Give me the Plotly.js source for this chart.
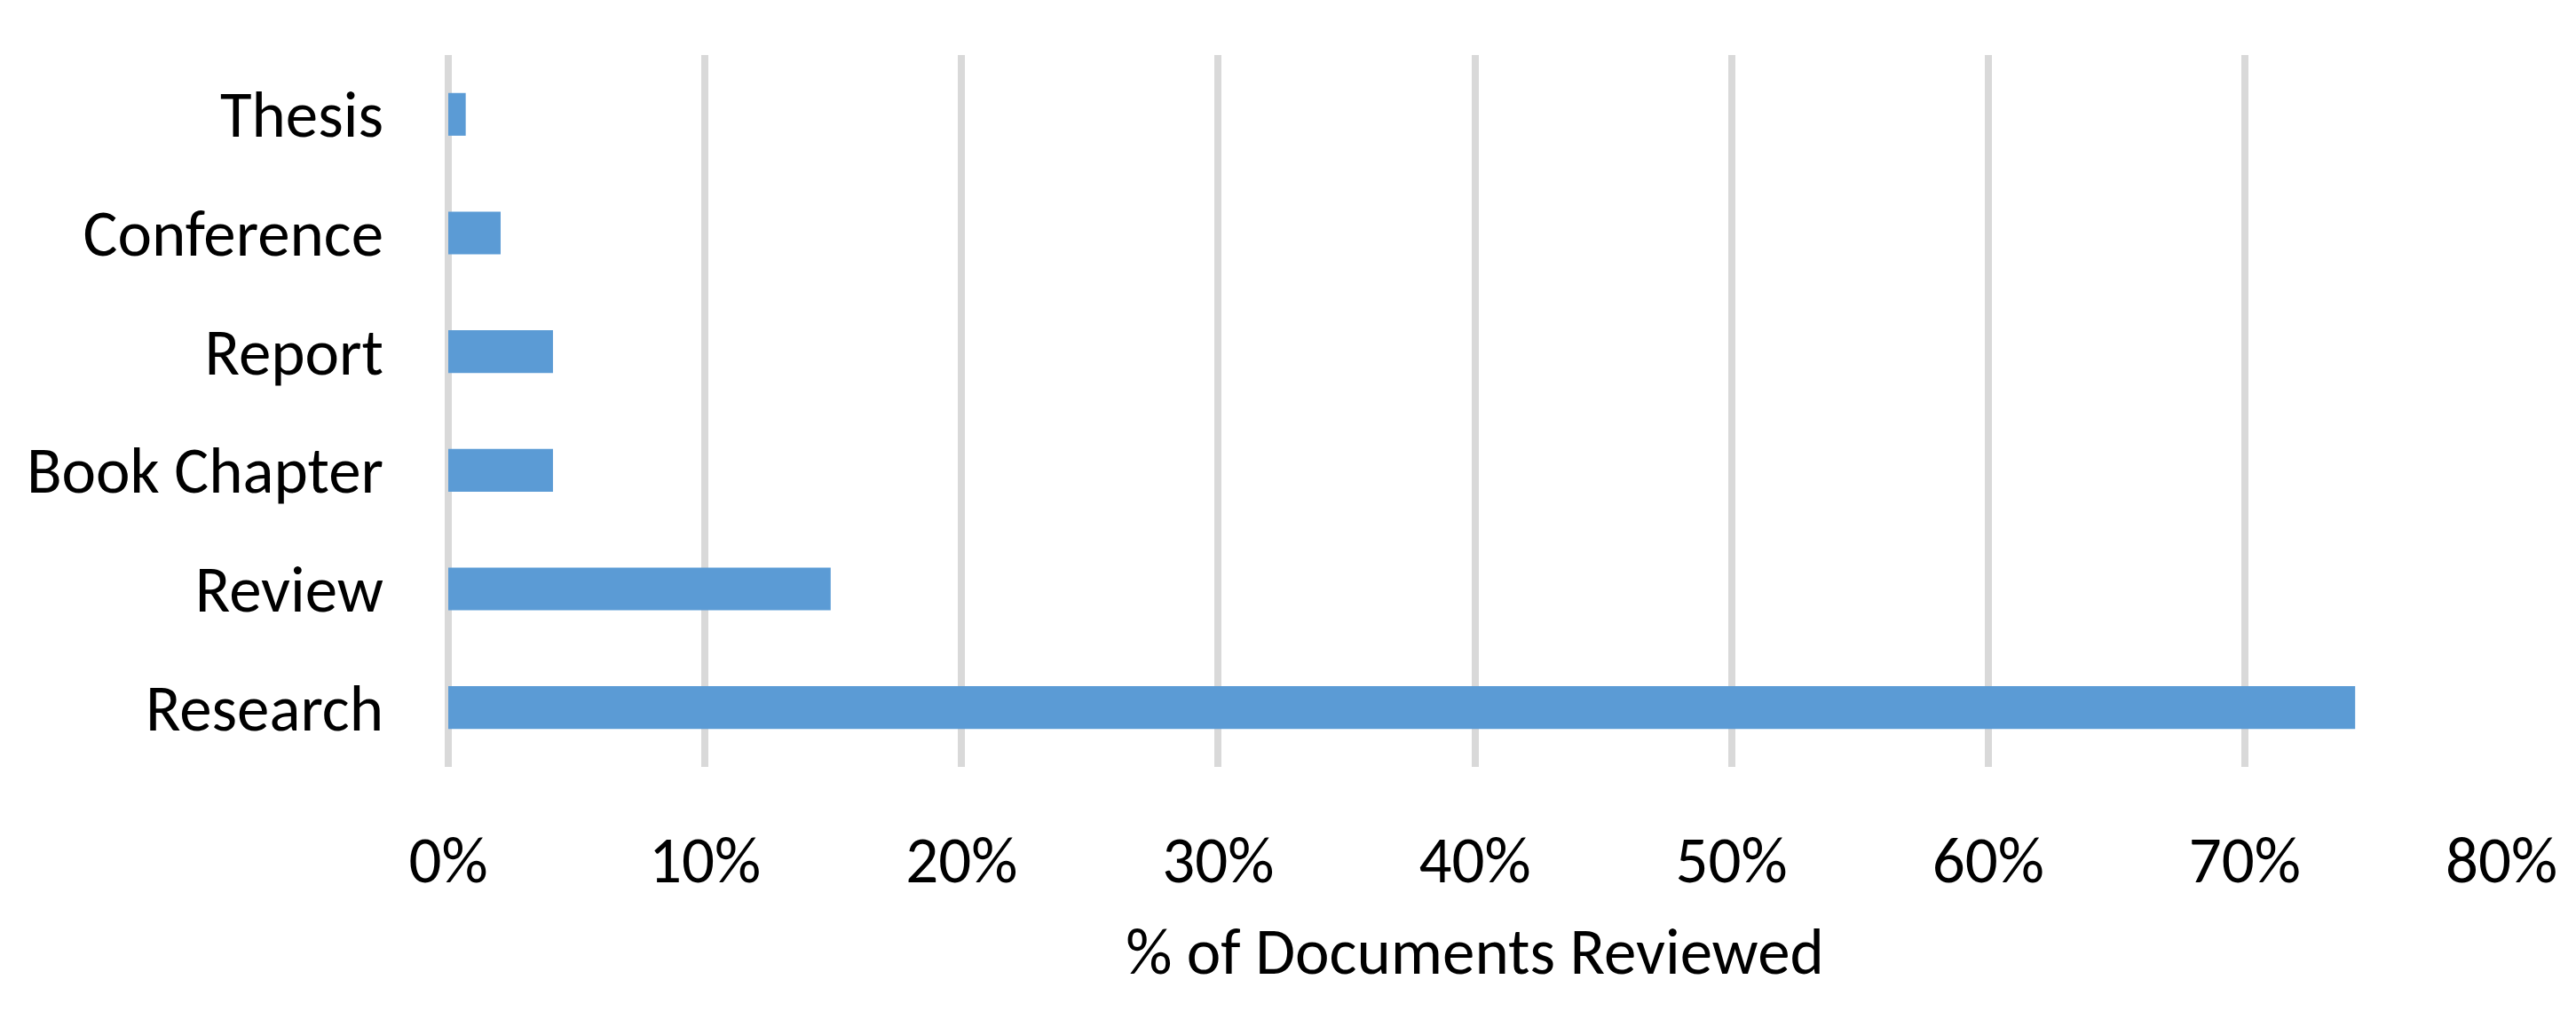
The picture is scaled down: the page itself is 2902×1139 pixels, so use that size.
<!DOCTYPE html>
<html>
<head>
<meta charset="utf-8">
<script src="https://cdn.plot.ly/plotly-3.0.1.min.js"></script>
<style>
  html, body { margin: 0; padding: 0; background: #fff; }
  #chart { width: 2902px; height: 1139px; }
</style>
</head>
<body>
<div id="chart"></div>
<script>
// Categories listed bottom-to-top (Plotly draws the first category at the bottom)
const categories = ["Research", "Review", "Book Chapter", "Report", "Conference", "Thesis"];
const percentValues = [74.3, 14.9, 4.08, 4.08, 2.04, 0.68];
const xTickValues = [0, 10, 20, 30, 40, 50, 60, 70, 80];
const xTickLabels = ["0%", "10%", "20%", "30%", "40%", "50%", "60%", "70%", "80%"];
const xAxisTitle = "% of Documents Reviewed";

const FONT = "Carlito, Lato, 'Open Sans', sans-serif";
const FS = 73;

const trace = {
  type: "bar",
  orientation: "h",
  y: categories,
  x: percentValues,
  marker: { color: "#5b9bd5", line: { width: 0 } },
  hoverinfo: "none"
};

const layout = {
  width: 2902,
  height: 1139,
  paper_bgcolor: "#ffffff",
  plot_bgcolor: "#ffffff",
  showlegend: false,
  bargap: 0.64,
  margin: { l: 505, r: 84, t: 62, b: 275, pad: 0 },
  font: { family: FONT, size: FS, color: "#000000" },
  xaxis: {
    range: [0, 80],
    tickvals: xTickValues,
    ticktext: xTickLabels,
    showgrid: true,
    gridcolor: "#d9d9d9",
    gridwidth: 8,
    zeroline: true,
    zerolinecolor: "#d9d9d9",
    zerolinewidth: 8,
    showline: false,
    ticks: "",
    ticklabelstandoff: 56,
    tickfont: { family: FONT, size: FS, color: "#000000" },
    title: { text: xAxisTitle, font: { family: FONT, size: FS, color: "#000000" }, standoff: 32 },
    fixedrange: true
  },
  yaxis: {
    type: "category",
    range: [-0.5, 5.5],
    showgrid: false,
    zeroline: false,
    showline: false,
    ticks: "",
    ticklabelstandoff: 72,
    tickfont: { family: FONT, size: FS, color: "#000000" },
    fixedrange: true
  }
};

Plotly.newPlot("chart", [trace], layout, { staticPlot: true, displayModeBar: false });
</script>
</body>
</html>
